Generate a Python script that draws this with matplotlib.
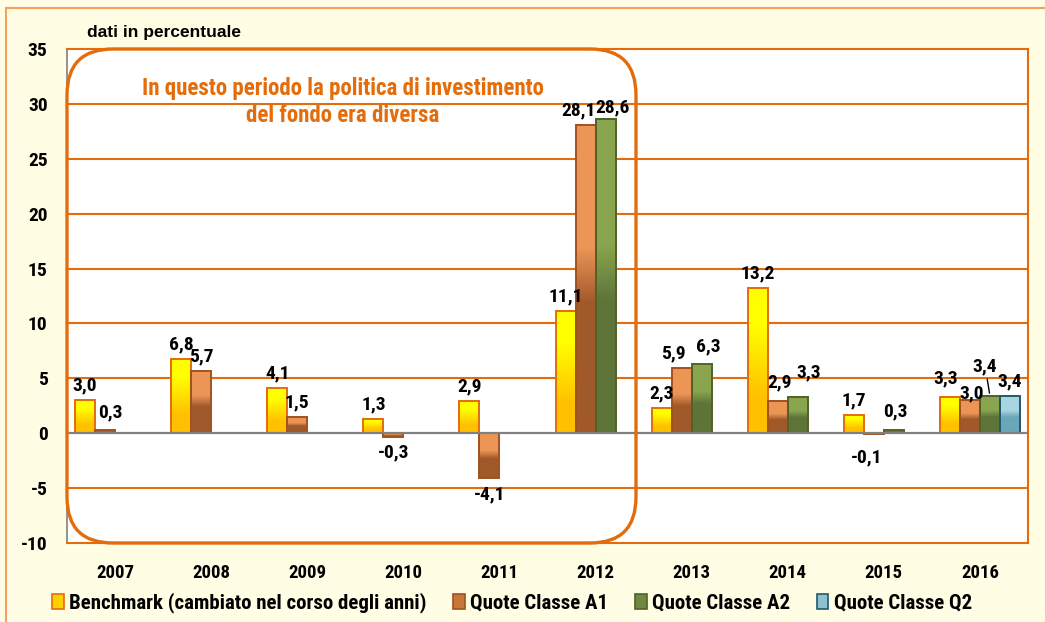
import numpy as np
import matplotlib
matplotlib.use("Agg")
import matplotlib.pyplot as plt
from matplotlib.colors import LinearSegmentedColormap
from matplotlib.patches import FancyBboxPatch, Rectangle, Patch
from matplotlib.transforms import IdentityTransform

# ---- data -------------------------------------------------------------
years = ["2007", "2008", "2009", "2010", "2011", "2012", "2013", "2014", "2015", "2016"]
benchmark = [3.0, 6.8, 4.1, 1.3, 2.9, 11.1, 2.3, 13.2, 1.7, 3.3]
classe_a1 = [0.3, 5.7, 1.5, -0.3, -4.1, 28.1, 5.9, 2.9, -0.1, 3.0]
classe_a2 = [None, None, None, None, None, 28.6, 6.3, 3.3, 0.3, 3.4]
classe_q2 = [None, None, None, None, None, None, None, None, None, 3.4]
series_names = ["Benchmark (cambiato nel corso degli anni)", "Quote Classe A1",
                "Quote Classe A2", "Quote Classe Q2"]
y_ticks = [-10, -5, 0, 5, 10, 15, 20, 25, 30, 35]

# ---- styles -----------------------------------------------------------
FONT = ["Roboto Condensed", "PT Sans Narrow", "DejaVu Sans"]
WIDE_FONT = ["Liberation Sans", "DejaVu Sans"]
plt.rcParams["font.family"] = FONT
plt.rcParams["font.weight"] = "bold"

ORANGE = "#E46C0A"
BG = "#FFFDE4"

styles = [
    # light (top), dark (bottom), edge, legend face
    dict(top="#FFFF00", bot="#FFC000", edge="#E46C0A", leg="#FFD000", stops=(0.25, 0.75)),
    dict(top="#EC9556", bot="#A0592A", edge="#A0521E", leg="#C8763A", stops=(0.40, 0.58)),
    dict(top="#8AA54F", bot="#5E7439", edge="#4F6228", leg="#6E8A42", stops=(0.40, 0.58)),
    dict(top="#A9D5E2", bot="#6AA7BA", edge="#215968", leg="#8CC1D2", stops=(0.40, 0.58)),
]

W_PX, H_PX, DPI = 1045, 622, 100
fig = plt.figure(figsize=(W_PX / DPI, H_PX / DPI), dpi=DPI, facecolor=BG)

# outer frame
fig.patches.append(Rectangle((6 / W_PX, -0.2), 1.2, 1.2 - 8 / H_PX,
                             transform=fig.transFigure, fill=False,
                             edgecolor="#F4A060", linewidth=1.5, zorder=0))

left, right, top, bottom = 67 / W_PX, 1028 / W_PX, 1 - 49 / H_PX, 1 - 543 / H_PX
ax = fig.add_axes([left, bottom, right - left, top - bottom])
ax.set_facecolor("white")

x = np.arange(len(years))
bw = 0.208
offsets = [-1.5 * bw, -0.5 * bw, 0.5 * bw, 1.5 * bw]
all_series = [benchmark, classe_a1, classe_a2, classe_q2]

# label shifts in points (dx, dy) where neighbouring labels would collide
nudge = {
    (1, 0): (4, 2),
    (1, 5): (-5, 0), (2, 5): (5, -2),
    (1, 6): (-6, 0), (2, 6): (5, 2),
    (1, 7): (1, 3), (2, 7): (8, 7),
    (1, 8): (-5, -5), (2, 8): (1, 3),
    (0, 9): (-3, 3), (1, 9): (1, -5.5), (2, 9): (-3.5, 11), (3, 9): (0, 0),
}
leader = {(2, 9)}

grad = np.linspace(0, 1, 256).reshape(-1, 1)
for si, (vals, st) in enumerate(zip(all_series, styles)):
    s0, s1 = st["stops"]
    cmap = LinearSegmentedColormap.from_list(
        f"g{si}", [(0, st["top"]), (s0, st["top"]), (s1, st["bot"]), (1, st["bot"])])
    for i, v in enumerate(vals):
        if v is None:
            continue
        xc = x[i] + offsets[si]
        bar = ax.bar(xc, v, width=bw, facecolor="none", edgecolor=st["edge"],
                     linewidth=1.4, zorder=4)[0]
        y0, y1 = min(0, v), max(0, v)
        im = ax.imshow(grad, extent=[xc - bw / 2, xc + bw / 2, y0, y1],
                       origin="upper", aspect="auto", cmap=cmap, zorder=3,
                       interpolation="bilinear")
        im.set_clip_path(bar)
        lbl = f"{v:.1f}".replace(".", ",")
        dx, dy = nudge.get((si, i), (0, 0))
        arrow = dict(arrowstyle="-", color="black", lw=1.0, shrinkA=1, shrinkB=2) \
            if (si, i) in leader else None
        if v >= 0:
            ax.annotate(lbl, (xc, v), xytext=(dx, 4 + dy), textcoords="offset points",
                        ha="center", va="bottom", fontsize=14, fontweight="bold",
                        color="black", zorder=6, arrowprops=arrow)
        else:
            ax.annotate(lbl, (xc, v), xytext=(dx, -5 + dy), textcoords="offset points",
                        ha="center", va="top", fontsize=14, fontweight="bold",
                        color="black", zorder=6, arrowprops=arrow)

ax.set_xlim(-0.5, len(years) - 0.5)
ax.set_ylim(-10, 35)
ax.set_yticks(y_ticks)
ax.set_yticklabels([str(t) for t in y_ticks])
ax.set_xticks(x)
ax.set_xticklabels(years)
ax.tick_params(axis="y", length=0, pad=14, labelsize=14)
ax.tick_params(axis="x", length=0, pad=15, labelsize=13.5)
for lab in ax.get_xticklabels() + ax.get_yticklabels():
    lab.set_fontweight("bold")

for t in y_ticks[1:-1]:
    if t == 0:
        ax.axhline(0, color="#808080", linewidth=1.6, zorder=5)
    else:
        ax.axhline(t, color=ORANGE, linewidth=1.5, zorder=2)

for side in ["top", "bottom", "right"]:
    ax.spines[side].set_color(ORANGE)
    ax.spines[side].set_linewidth(1.5)
ax.spines["left"].set_color("#808080")
ax.spines["left"].set_linewidth(1.2)

# rounded box around the earlier period (pixel coordinates)
box = FancyBboxPatch((67, H_PX - 543), 636 - 67, 543 - 49,
                     boxstyle="round,pad=0,rounding_size=46",
                     transform=IdentityTransform(), fill=False,
                     edgecolor=ORANGE, linewidth=2.4, zorder=7, clip_on=False)
fig.patches.append(box)

fig.text(343 / W_PX, 1 - 102 / H_PX,
         "In questo periodo la politica di investimento\ndel fondo era diversa",
         ha="center", va="center", fontsize=16.5, fontweight="bold", color=ORANGE,
         linespacing=1.2)

fig.text(87 / W_PX, 1 - 32 / H_PX, "dati in percentuale", ha="left", va="center",
         fontsize=12.5, fontweight="bold", color="black", family=WIDE_FONT)

handles = [Patch(facecolor=st["leg"], edgecolor=st["edge"], linewidth=1.2) for st in styles]
fig.legend(handles, series_names, loc="center", bbox_to_anchor=(0.49, 1 - 603 / H_PX),
           ncol=4, frameon=False, handlelength=0.55, handleheight=0.7,
           handletextpad=0.25, columnspacing=1.3,
           prop=dict(family=FONT, weight="bold", size=15))

fig.savefig("out.png", dpi=DPI, facecolor=BG)
